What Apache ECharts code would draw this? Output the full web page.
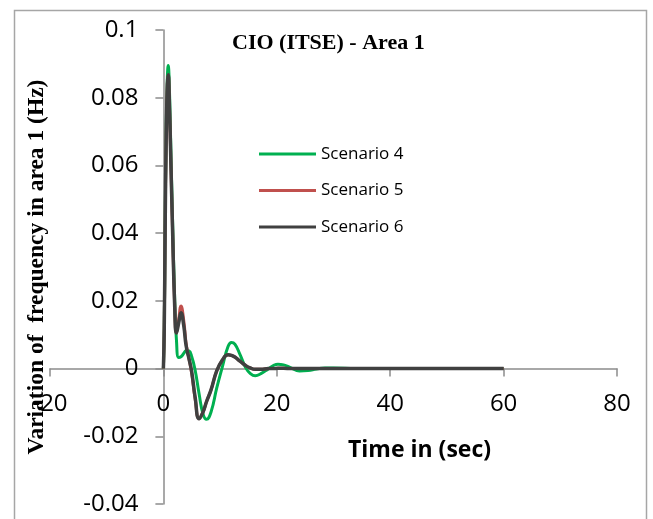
<!DOCTYPE html>
<html>
<head>
<meta charset="utf-8">
<script src="https://cdn.jsdelivr.net/npm/echarts@6/dist/echarts.min.js"></script>
<style>
  html, body { margin: 0; padding: 0; background: #ffffff; }
  #chart { width: 653px; height: 519px; }
</style>
</head>
<body>
<div id="chart"></div>
<script>
// Frequency deviation in area 1 after a load step (CIO tuned with ITSE)
var seriesNames = ['Scenario 4', 'Scenario 5', 'Scenario 6'];
var seriesColors = ['#00b050', '#c0504d', '#404040'];

// time samples in seconds
var timeSec = [0, 0.15, 0.3, 0.5, 0.7, 0.85, 1.0, 1.3, 1.6, 2.0, 2.3, 2.7, 3.1, 3.6, 4.0,
  4.5, 5.0, 5.6, 6.3, 7.0, 7.6, 8.4, 9.4, 10.4, 11.4, 12.0, 12.6, 13.5, 14.5, 15.3,
  16.2, 17.2, 18.5, 19.4, 20.2, 21.2, 22.5, 24, 25.5, 27, 28.5, 30, 34, 40, 50, 60];

var scenario4 = [0, 0.012, 0.041, 0.071, 0.086, 0.0895, 0.086, 0.066, 0.045, 0.020, 0.0085,
  0.0033, 0.0035, 0.0045, 0.0053, 0.0052, 0.0035, -0.0005, -0.0075, -0.0135, -0.0150,
  -0.0128, -0.0058, 0.0005, 0.0065, 0.0077, 0.0072, 0.0042, 0.0003, -0.0014, -0.0021,
  -0.0015, -0.0001, 0.0009, 0.0013, 0.0011, 0.0002, -0.0007, -0.0006, -0.0001, 0.0002,
  0.0002, 0, 0, 0, 0];

var scenario5 = [0, 0.012, 0.040, 0.069, 0.084, 0.0868, 0.082, 0.062, 0.042, 0.018, 0.0105,
  0.0145, 0.0185, 0.014, 0.0075, 0.0030, -0.0015, -0.009, -0.0148, -0.0128, -0.0098,
  -0.0063, -0.0007, 0.0025, 0.0041, 0.0039, 0.0034, 0.0022, 0.0009, 0.0002, -0.0002,
  -0.0002, 0, 0, 0.0001, 0.0001, 0, 0, 0, 0, 0,
  0, 0, 0, 0, 0];

var scenario6 = [0, 0.012, 0.040, 0.069, 0.084, 0.0868, 0.082, 0.062, 0.042, 0.018, 0.0105,
  0.0135, 0.0165, 0.0125, 0.0068, 0.0030, -0.001, -0.0085, -0.0148, -0.0128, -0.0098,
  -0.0063, -0.0007, 0.0025, 0.0041, 0.0039, 0.0034, 0.0022, 0.0009, 0.0002, -0.0002,
  -0.0002, 0, 0, 0.0001, 0.0001, 0, 0, 0, 0, 0,
  0, 0, 0, 0, 0];

var xTicks = [-20, 0, 20, 40, 60, 80];
var yTicks = [-0.04, -0.02, 0, 0.02, 0.04, 0.06, 0.08, 0.1];

var allValues = [scenario4, scenario5, scenario6];
var lineWidths = [3, 3, 3.5];

function pairs(vals) {
  return timeSec.map(function (t, i) { return [t, vals[i]]; });
}

// plot box in pixels; the axes cross at (0, 0) inside it
var gridBox = { left: 50, right: 36, top: 30, bottom: 15 };
var W = 653, H = 519;
var xMin = xTicks[0], xMax = xTicks[xTicks.length - 1];
var yMin = yTicks[0], yMax = yTicks[yTicks.length - 1];
var plotW = W - gridBox.left - gridBox.right;
var plotH = H - gridBox.top - gridBox.bottom;
// shift each axis from the grid edge onto the other axis' zero
var xAxisShift = -plotH * (0 - yMin) / (yMax - yMin);
var yAxisShift = -plotW * (0 - xMin) / (xMax - xMin);

var labelFont = { fontFamily: 'Open Sans', fontSize: 24, color: '#000000' };
var axisGray = '#8c8c8c';

var chart = echarts.init(document.getElementById('chart'), null, { renderer: 'canvas' });
chart.setOption({
  animation: false,
  backgroundColor: '#ffffff',
  title: [
    {
      text: 'CIO (ITSE) - Area 1',
      left: 232, top: 32, padding: 0,
      textStyle: { fontFamily: 'Liberation Serif', fontWeight: 'bold', fontSize: 22, color: '#000000' }
    },
    {
      text: 'Time in (sec)',
      left: 348, top: 439, padding: 0,
      textStyle: { fontFamily: 'Open Sans', fontWeight: 'bold', fontSize: 23, color: '#000000' }
    }
  ],
  legend: {
    data: seriesNames,
    orient: 'vertical',
    left: 259, top: 144, padding: 0,
    icon: 'rect',
    itemWidth: 57, itemHeight: 3,
    itemGap: 16.5,
    textStyle: { fontFamily: 'Open Sans', fontSize: 17, color: '#000000', lineHeight: 20 }
  },
  graphic: [{
    type: 'rect',
    shape: { x: 14.5, y: 10.5, width: 632, height: 530 },
    style: { fill: 'none', stroke: '#a6a6a6', lineWidth: 1.5 },
    silent: true
  }],
  grid: {
    left: gridBox.left, right: gridBox.right, top: gridBox.top, bottom: gridBox.bottom,
    containLabel: false,
    outerBoundsMode: 'none'
  },
  xAxis: {
    type: 'value',
    min: xMin, max: xMax,
    interval: xTicks[1] - xTicks[0],
    offset: xAxisShift,
    axisLine: { onZero: false, lineStyle: { color: axisGray, width: 1.5 } },
    axisTick: { show: true, length: 8, lineStyle: { color: axisGray, width: 1.5 } },
    axisLabel: Object.assign({ margin: 24 }, labelFont),
    splitLine: { show: false }
  },
  yAxis: {
    type: 'value',
    min: yMin, max: yMax,
    interval: 0.02,
    offset: yAxisShift,
    name: 'Variation of  frequency in area 1 (Hz)',
    nameLocation: 'middle',
    nameRotate: 90,
    nameGap: 114,
    nameTextStyle: { fontFamily: 'Liberation Serif', fontWeight: 'bold', fontSize: 23.5, color: '#000000' },
    axisLine: { onZero: false, lineStyle: { color: axisGray, width: 1.5 } },
    axisTick: { show: true, length: 8, lineStyle: { color: axisGray, width: 1.5 } },
    axisLabel: Object.assign({
      margin: 25,
      formatter: function (v) { return String(+v.toFixed(2)); }
    }, labelFont),
    splitLine: { show: false }
  },
  series: seriesNames.map(function (name, k) {
    return {
      name: name,
      type: 'line',
      data: pairs(allValues[k]),
      showSymbol: false,
      smooth: 0.5,
      color: seriesColors[k],
      lineStyle: { color: seriesColors[k], width: lineWidths[k] },
      z: 2 + k
    };
  })
});
</script>
</body>
</html>
